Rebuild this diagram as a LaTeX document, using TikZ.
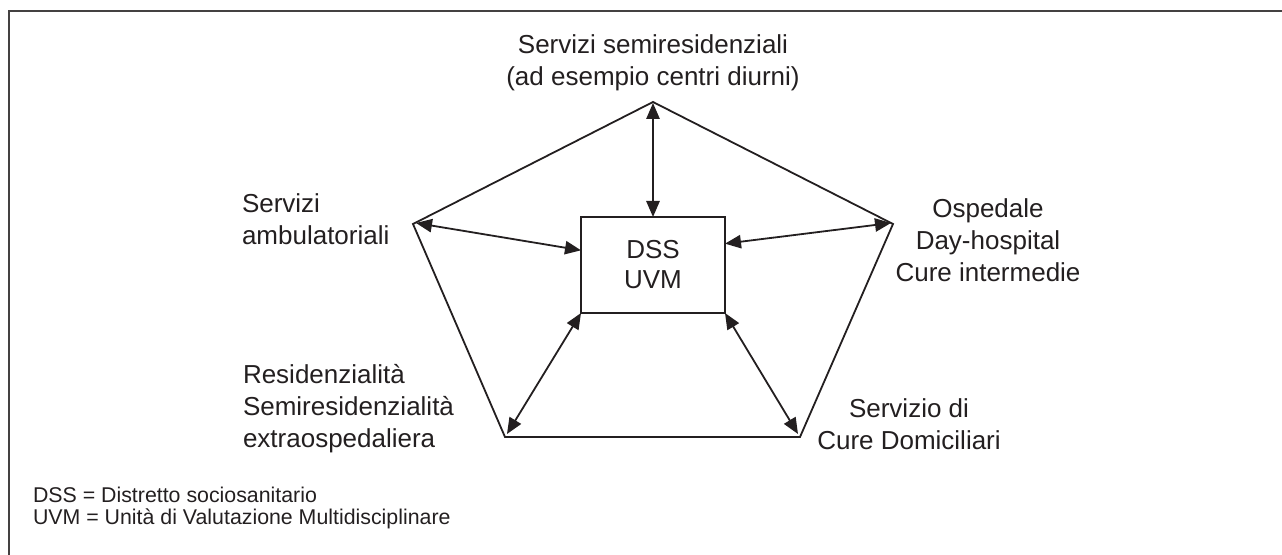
\documentclass[tikz,border=0pt]{standalone}
\usepackage{fontspec}
\setmainfont{Liberation Sans}
\usetikzlibrary{arrows.meta}
\definecolor{ink}{HTML}{231F20}
\begin{document}
\begin{tikzpicture}[x=0.75pt,y=-0.75pt,
  every node/.style={inner sep=0pt, outer sep=0pt, text=ink},
  lbl/.style={font=\fontsize{19.5}{24}\selectfont},
  leg/.style={font=\fontsize{16}{16.5}\selectfont, align=left, anchor=base west},
  edge/.style={draw=ink, line width=1.35pt, line join=miter},
  twoway/.style={draw=ink, line width=1.35pt, {Triangle[length=12pt,width=10pt]}-{Triangle[length=12pt,width=10pt]}},
  centrebox/.style={draw=ink, line width=1.35pt, minimum width=108pt, minimum height=72pt, align=center, font=\fontsize{19.5}{22.5}\selectfont}
]
\useasboundingbox (0,0) rectangle (1282,555);
% frame
\draw[draw=ink!85, line width=1.6pt] (9,555) -- (9,11) -- (1282,11);

% pentagon corners
\coordinate (pT) at (653,102);
\coordinate (pL) at (413,224);
\coordinate (pR) at (893,224);
\coordinate (pBL) at (505,437);
\coordinate (pBR) at (800,437);
\draw[edge] (pT) -- (pR) -- (pBR) -- (pBL) -- (pL) -- cycle;

% centre box
\node[centrebox] (box) at (653,265) {DSS\\UVM};

% arrow free ends
\coordinate (aT) at (653,103);
\coordinate (aL) at (416,223);
\coordinate (aR) at (891,223);
\coordinate (aBL) at (507,434);
\coordinate (aBR) at (798,434);

\draw[twoway] (aT) -- (box.north);
\draw[twoway] (aL) -- ([yshift=11pt]box.west);
\draw[twoway] (aR) -- ([yshift=16pt]box.east);
\draw[twoway] (box.south west) -- (aBL);
\draw[twoway] (box.south east) -- (aBR);

% labels (anchor = baseline of last line)
\node[lbl, align=center, anchor=base] (semi) at (653,86) {Servizi semiresidenziali\\(ad esempio centri diurni)};
\node[lbl, align=left, anchor=base west] (amb) at (242,245) {Servizi\\ambulatoriali};
\node[lbl, align=center, anchor=base] (osp) at (988,282) {Ospedale\\Day-hospital\\Cure intermedie};
\node[lbl, align=left, anchor=base west] (res) at (243,448) {Residenzialità\\Semiresidenzialità\\extraospedaliera};
\node[lbl, align=center, anchor=base] (dom) at (909,450) {Servizio di\\Cure Domiciliari};

% legend
\node[leg] (legend) at (33,525) {DSS = Distretto sociosanitario\\UVM = Unità di Valutazione Multidisciplinare};
\end{tikzpicture}
\end{document}
